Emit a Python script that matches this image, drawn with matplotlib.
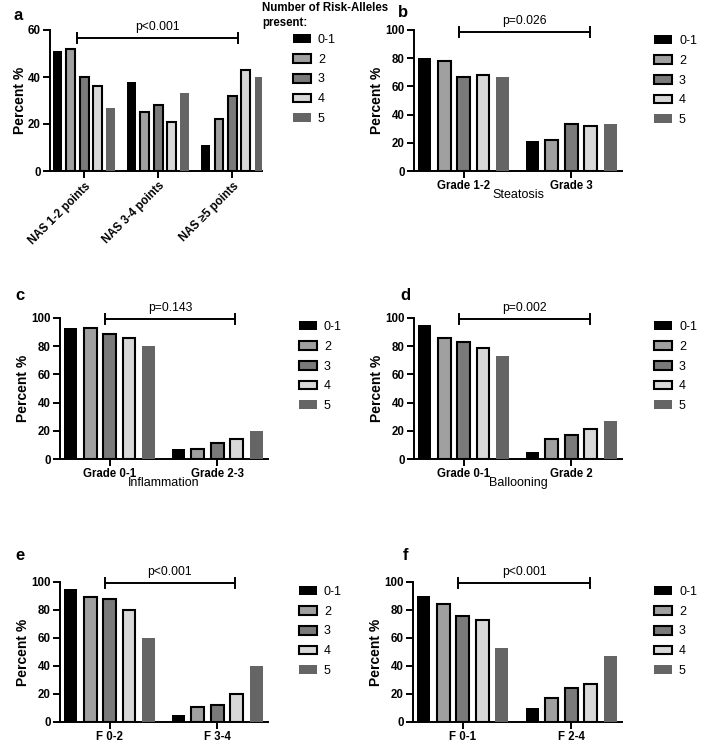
import matplotlib
matplotlib.use("Agg")
import matplotlib.pyplot as plt
import matplotlib.patches as mpatches
import numpy as np

plt.rcParams['font.family'] = ['Liberation Sans', 'DejaVu Sans']

groups = ["0-1", "2", "3", "4", "5"]
colors = ["#000000", "#a0a0a0", "#7a7a7a", "#d8d8d8", "#656565"]
edged = [False, True, True, True, False]

# panel a: NAS score
cats_a = ["NAS 1-2 points", "NAS 3-4 points", "NAS \u22655 points"]
vals_a = [[51, 38, 11], [52, 25, 22], [40, 28, 32], [36, 21, 43], [27, 33, 40]]
# panel b: steatosis
cats_b = ["Grade 1-2", "Grade 3"]
vals_b = [[80, 21], [78, 22], [67, 33], [68, 32], [67, 33]]
# panel c: inflammation
cats_c = ["Grade 0-1", "Grade 2-3"]
vals_c = [[93, 7], [93, 7], [89, 11], [86, 14], [80, 20]]
# panel d: ballooning
cats_d = ["Grade 0-1", "Grade 2"]
vals_d = [[95, 5], [86, 14], [83, 17], [79, 21], [73, 27]]
# panel e: fibrosis F0-2 / F3-4
cats_e = ["F 0-2", "F 3-4"]
vals_e = [[95, 5], [89, 11], [88, 12], [80, 20], [60, 40]]
# panel f: fibrosis F0-1 / F2-4
cats_f = ["F 0-1", "F 2-4"]
vals_f = [[90, 10], [84, 17], [76, 24], [73, 27], [53, 47]]

W, H = 708, 748
fig = plt.figure(figsize=(W / 100, H / 100), dpi=100)


def px_axes(l, t, r, b):
    return fig.add_axes([l / W, 1 - b / H, (r - l) / W, (b - t) / H])


def draw_panel(ax, cats, vals, ymax, pval, bracket, yfrac, xlab=None, rot=False):
    n = len(cats)
    x = np.arange(n)
    pitch = 0.18
    width = 0.12
    for i in range(5):
        pos = x + (i - 2) * pitch
        if edged[i]:
            ax.bar(pos, vals[i], width, color=colors[i], edgecolor="black",
                   linewidth=1.5, zorder=3)
        else:
            ax.bar(pos, vals[i], width, color=colors[i], linewidth=0, zorder=3)
    ax.set_ylim(0, ymax)
    if n == 3:
        ax.set_xlim(-0.46, 2.4)
    else:
        ax.set_xlim(-0.46, 1.47)
    ax.set_yticks(np.arange(0, ymax + 1, 20))
    ax.set_xticks(x)
    if rot:
        ax.set_xticklabels(cats, rotation=45, ha="right", rotation_mode="anchor",
                           fontsize=8.3, fontweight="bold")
    else:
        ax.set_xticklabels(cats, fontsize=8.3, fontweight="bold")
    for lab in ax.get_yticklabels():
        lab.set_fontsize(8.3)
        lab.set_fontweight("bold")
    for s in ["top", "right"]:
        ax.spines[s].set_visible(False)
    for s in ["left", "bottom"]:
        ax.spines[s].set_linewidth(1.4)
    ax.tick_params(direction="out", length=5, width=1.4, pad=1.5)
    ax.set_ylabel("Percent %", fontsize=10, fontweight="bold", labelpad=1)
    if xlab:
        ax.set_xlabel(xlab, fontsize=9, labelpad=-2)
    # significance bracket
    x0, x1 = bracket
    yb = ymax * yfrac
    cap = ymax * 0.034
    ax.plot([x0, x1], [yb, yb], color="black", lw=1.4, clip_on=False, zorder=4)
    ax.plot([x0, x0], [yb - cap, yb + cap], color="black", lw=1.4, clip_on=False)
    ax.plot([x1, x1], [yb - cap, yb + cap], color="black", lw=1.4, clip_on=False)
    ax.annotate(pval, xy=((x0 + x1) / 2, yb), xytext=(0, 3.5),
                textcoords="offset points", ha="center", va="bottom",
                fontsize=8.7, annotation_clip=False)


def add_legend(ax, left_px, top_px):
    handles = []
    for i in range(5):
        handles.append(mpatches.Patch(facecolor=colors[i],
                                      edgecolor="black" if edged[i] else colors[i],
                                      linewidth=1.5 if edged[i] else 0))
    leg = ax.legend(handles, groups, loc="upper left",
                    bbox_to_anchor=(left_px / W, 1 - top_px / H),
                    bbox_transform=fig.transFigure, frameon=False, fontsize=9,
                    handlelength=1.45, handleheight=0.7, handletextpad=0.55,
                    labelspacing=0.62, borderpad=0, borderaxespad=0)
    return leg


ax_a = px_axes(50, 30, 262, 171)
draw_panel(ax_a, cats_a, vals_a, 60, "p<0.001", (-0.09, 2.08), 0.943, rot=True)
add_legend(ax_a, 293, 34)
fig.text(262 / W, 1 - 2 / H, "Number of Risk-Alleles\npresent:", ha="left", va="top",
         fontsize=8.3, fontweight="bold", linespacing=1.3)

ax_b = px_axes(414, 30, 622, 171)
draw_panel(ax_b, cats_b, vals_b, 100, "p=0.026", (-0.04, 1.17), 0.986, xlab="Steatosis")
add_legend(ax_b, 654, 35)

ax_c = px_axes(60, 318, 268, 459)
draw_panel(ax_c, cats_c, vals_c, 100, "p=0.143", (-0.04, 1.16), 0.993, xlab="Inflammation")
add_legend(ax_c, 299, 321)

ax_d = px_axes(414, 318, 622, 459)
draw_panel(ax_d, cats_d, vals_d, 100, "p=0.002", (-0.04, 1.17), 0.993, xlab="Ballooning")
add_legend(ax_d, 654, 321)

ax_e = px_axes(60, 582, 268, 722)
draw_panel(ax_e, cats_e, vals_e, 100, "p<0.001", (-0.04, 1.16), 0.993)
add_legend(ax_e, 299, 586)

ax_f = px_axes(413, 582, 622, 722)
draw_panel(ax_f, cats_f, vals_f, 100, "p<0.001", (-0.04, 1.17), 0.993)
add_legend(ax_f, 654, 586)

letters = [("a", 13, 8), ("b", 398, 5), ("c", 15, 288), ("d", 400, 288),
           ("e", 15, 548), ("f", 403, 548)]
for s, lx, ly in letters:
    fig.text(lx / W, 1 - ly / H, s, fontsize=12, fontweight="bold", ha="left", va="top")

fig.savefig("out.png", dpi=100)
